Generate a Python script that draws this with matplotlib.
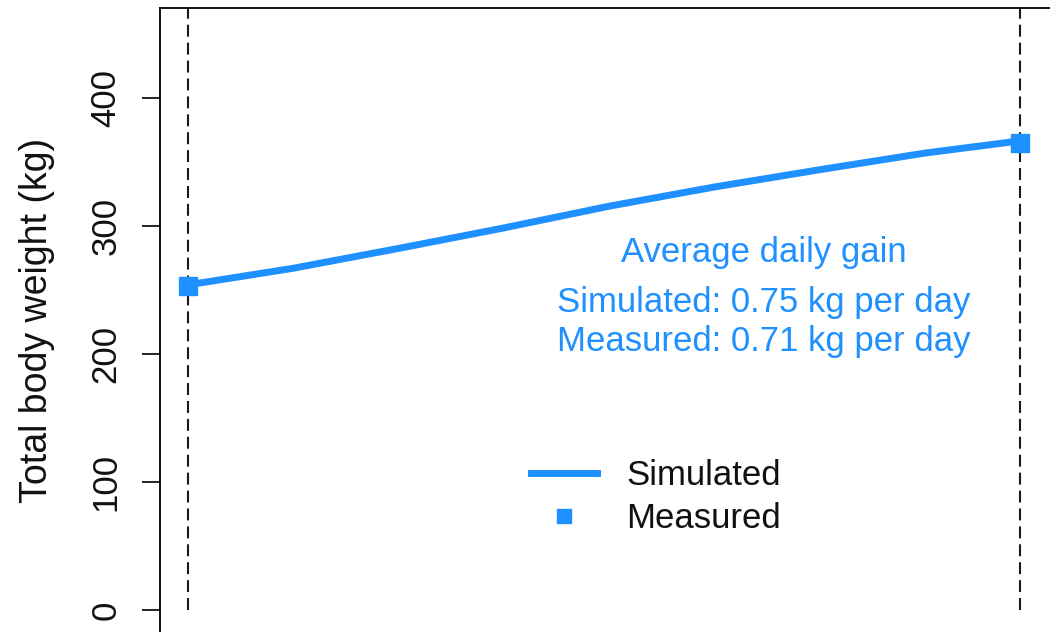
import matplotlib
matplotlib.use("Agg")
import matplotlib.pyplot as plt
from matplotlib.lines import Line2D

plt.rcParams['font.family'] = ['Liberation Sans', 'DejaVu Sans']
plt.rcParams['lines.scale_dashes'] = False

# Simulated body weight trajectory (days since start, kg)
sim_days = [0, 20, 40, 60, 80, 100, 120, 140, 158]
sim_weight = [254, 267, 282.5, 298.5, 315.5, 330.5, 344, 357, 366.5]

# Measured weights at start and end of the trial
meas_days = [0, 158]
meas_weight = [253.5, 364.5]

yticks = [0, 100, 200, 300, 400]
adg_sim = 0.75
adg_meas = 0.71

blue = '#1E90FF'
W, H = 1050, 632
fig = plt.figure(figsize=(W / 100, H / 100), dpi=100)

# plot region (pixel geometry of the device)
left_px, right_px, top_px, bot_px = 160, 1060, 8, 640
ax = fig.add_axes([left_px / W, 1 - bot_px / H,
                   (right_px - left_px) / W, (bot_px - top_px) / H])
px_per_day = (1020 - 188) / 158.0
ax.set_xlim((left_px - 188) / px_per_day, (right_px - 188) / px_per_day)
px_per_kg = 1.28
ax.set_ylim((610 - bot_px) / px_per_kg, (610 - top_px) / px_per_kg)

for d in meas_days:
    ax.plot([d, d], [0, ax.get_ylim()[1]], color='#1a1a1a', lw=1.5,
            dashes=(8.6, 4.3), zorder=1)

ax.plot(sim_days, sim_weight, color=blue, lw=5, solid_capstyle='butt', zorder=2)
ax.plot(meas_days, meas_weight, ls='none', marker='s', ms=12.5, color=blue,
        zorder=3)

ax.set_yticks(yticks)
ax.set_yticklabels([str(t) for t in yticks], rotation=90, va='center',
                   fontsize=25, color='#111111')
ax.tick_params(axis='y', length=13, width=1.2, pad=14, direction='out')
ax.set_xticks([])
for s in ax.spines.values():
    s.set_linewidth(1.3)
    s.set_color('black')

fig.text(37 / W, 1 - 320 / H, 'Total body weight (kg)', rotation=90,
         ha='center', va='center', fontsize=27, color='#111111')

tx = (764 - 188) / px_per_day
ax.text(tx, (610 - 252) / px_per_kg, 'Average daily gain', color=blue,
        fontsize=25, ha='center', va='center')
ax.text(tx, (610 - 302) / px_per_kg, f'Simulated: {adg_sim:.2f} kg per day',
        color=blue, fontsize=25, ha='center', va='center')
ax.text(tx, (610 - 341) / px_per_kg, f'Measured: {adg_meas:.2f} kg per day',
        color=blue, fontsize=25, ha='center', va='center')

handles = [Line2D([], [], color=blue, lw=5),
           Line2D([], [], color=blue, ls='none', marker='s', ms=10)]
fig.legend(handles, ['Simulated', 'Measured'], loc='center',
           bbox_to_anchor=(656 / W, 1 - 497 / H), frameon=False, fontsize=25,
           handlelength=1.9, handletextpad=0.85, labelspacing=0.3,
           labelcolor='#111111')

fig.savefig('out.png', dpi=100)
